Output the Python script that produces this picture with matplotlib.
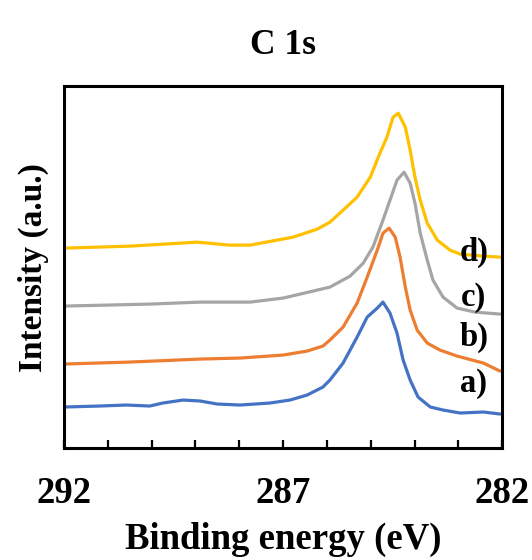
import numpy as np
import matplotlib
matplotlib.use("Agg")
import matplotlib.pyplot as plt

# Espectros XPS C 1s (unidades arbitrarias)
energia_a = [292.00, 291.18, 290.58, 290.04, 289.74, 289.28, 288.89, 288.50, 287.98, 287.30,
             286.84, 286.45, 286.09, 285.93, 285.63, 285.31, 285.08, 284.85, 284.72, 284.56,
             284.40, 284.26, 284.10, 283.92, 283.64, 283.35, 282.96, 282.43, 282.05]
intensidad_a = [41, 42, 43, 42, 45, 48, 47, 44, 43, 45, 48, 53, 61, 68, 85, 111, 131, 140, 146,
                135, 115, 88, 68, 51, 41, 38, 35, 36, 34]

energia_b = [292.00, 290.49, 288.89, 287.98, 287.00, 286.45, 286.09, 285.93, 285.63, 285.31,
             285.08, 284.85, 284.72, 284.58, 284.44, 284.33, 284.21, 284.10, 283.94, 283.71,
             283.42, 283.03, 282.43, 282.05]
intensidad_b = [84, 86, 89, 90, 93, 97, 102, 108, 121, 145, 171, 198, 215, 220, 211, 191, 161,
                138, 118, 105, 98, 92, 85, 77]

energia_c = [292.00, 290.04, 288.89, 287.75, 287.00, 286.22, 285.93, 285.47, 285.17, 284.95,
             284.72, 284.56, 284.40, 284.24, 284.10, 283.99, 283.87, 283.71, 283.58, 283.35,
             283.03, 282.62, 282.05]
intensidad_c = [142, 144, 146, 146, 150, 158, 161, 172, 185, 201, 228, 248, 268, 276, 265, 245,
                215, 188, 168, 151, 140, 136, 134]

energia_d = [292.00, 290.49, 288.96, 288.21, 287.75, 287.14, 286.77, 286.22, 285.93, 285.63,
             285.31, 285.01, 284.79, 284.63, 284.49, 284.37, 284.21, 284.10, 283.99, 283.87,
             283.71, 283.48, 283.19, 282.96, 282.43, 282.05]
intensidad_d = [200, 202, 206, 203, 203, 208, 211, 219, 226, 238, 251, 271, 295, 311, 331, 335,
                321, 298, 271, 248, 225, 208, 198, 194, 192, 191]

etiquetas = ["a)", "b)", "c)", "d)"]
etiqueta_y = [65, 111, 151, 196]
colores = ["#4472C4", "#ED7D31", "#A5A5A5", "#FFC000"]

plt.rcParams['font.family'] = ['Liberation Serif', 'DejaVu Serif']
plt.rcParams['font.weight'] = 'bold'

fig = plt.figure(figsize=(5.32, 5.60), dpi=100)
ax = fig.add_axes([0.120, 0.200, 0.824, 0.646])

series = [(energia_a, intensidad_a), (energia_b, intensidad_b),
          (energia_c, intensidad_c), (energia_d, intensidad_d)]
for (e, i), c in zip(series, colores):
    ax.plot(e, i, color=c, linewidth=2.3, solid_joinstyle='round', solid_capstyle='round')

for lab, yy in zip(etiquetas, etiqueta_y):
    ax.text(282.65, yy, lab, ha='center', va='center', fontsize=23.5, fontweight='bold')

ax.set_xlim(292, 282)
ax.set_ylim(0, 362)
ax.set_xticks([292, 287, 282])
ax.set_xticks(np.arange(282, 293, 1), minor=True)
ax.set_yticks([])
ax.tick_params(axis='x', which='both', direction='in', length=6, width=1.6, labelsize=26.5, pad=20)
for s in ax.spines.values():
    s.set_linewidth(2.2)

ax.set_title("C 1s", fontsize=25.5, fontweight='bold', pad=23)
ax.set_xlabel("Binding energy (eV)", fontsize=26.5, fontweight='bold', labelpad=8)
ax.set_ylabel("Intensity (a.u.)", fontsize=24, fontweight='bold', labelpad=11)

fig.savefig("out.png", dpi=100)
